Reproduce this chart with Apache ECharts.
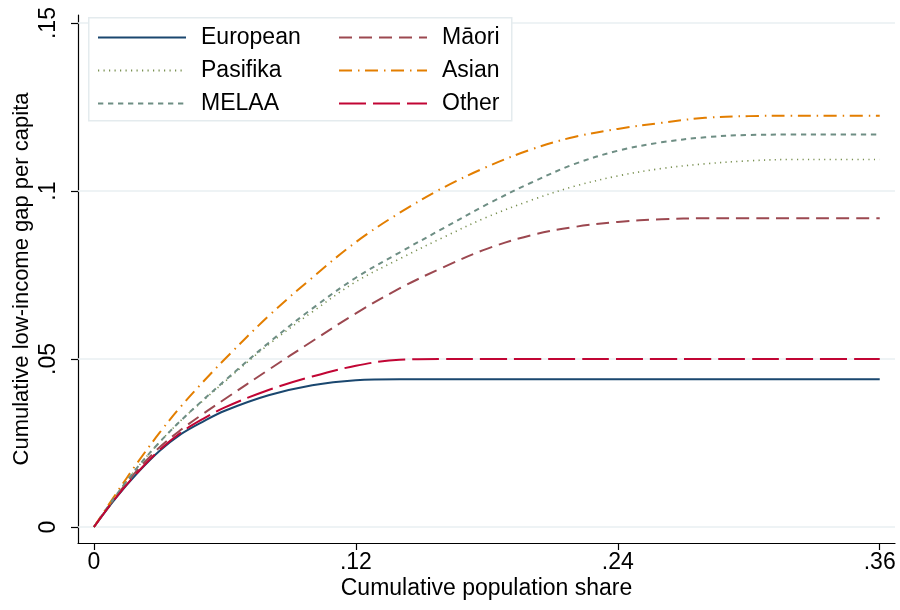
<!DOCTYPE html>
<html>
<head>
<meta charset="utf-8">
<script src="https://cdn.jsdelivr.net/npm/echarts@6.0.0/dist/echarts.min.js"></script>
<style>
html,body{margin:0;padding:0;background:#fff;}
#chart{width:900px;height:610px;}
</style>
</head>
<body>
<div id="chart"></div>
<script>
// Cumulative population share (x)
const xShare = [0, 0.01, 0.02, 0.03, 0.04, 0.05, 0.06, 0.08, 0.10, 0.12, 0.14, 0.16, 0.18, 0.20, 0.22, 0.24, 0.26, 0.28, 0.30, 0.32, 0.34, 0.36];

// Cumulative low-income gap per capita (y), one array per group
const european = [0, 0.0086, 0.0161, 0.0226, 0.0277, 0.0314, 0.0346, 0.0392, 0.0422, 0.0437, 0.0440, 0.0440, 0.0440, 0.0440, 0.0440, 0.0440, 0.0440, 0.0440, 0.0440, 0.0440, 0.0440, 0.0440];
const maori    = [0, 0.0090, 0.0170, 0.0237, 0.0290, 0.0337, 0.0381, 0.0468, 0.0553, 0.0636, 0.0710, 0.0773, 0.0828, 0.0868, 0.0893, 0.0908, 0.0916, 0.0919, 0.0919, 0.0919, 0.0919, 0.0919];
const pasifika = [0, 0.0093, 0.0178, 0.0252, 0.0318, 0.0376, 0.0433, 0.0543, 0.0640, 0.0730, 0.0798, 0.0862, 0.0922, 0.0972, 0.1014, 0.1045, 0.1067, 0.1081, 0.1090, 0.1094, 0.1094, 0.1094];
const asian    = [0, 0.0098, 0.0192, 0.0280, 0.0360, 0.0432, 0.0500, 0.0628, 0.0742, 0.0848, 0.0935, 0.1010, 0.1072, 0.1123, 0.1161, 0.1185, 0.1203, 0.1218, 0.1223, 0.1224, 0.1224, 0.1224];
const melaa    = [0, 0.0093, 0.0178, 0.0252, 0.0318, 0.0378, 0.0436, 0.0548, 0.0650, 0.0742, 0.0817, 0.0889, 0.0960, 0.1024, 0.1080, 0.1120, 0.1145, 0.1160, 0.1167, 0.1168, 0.1168, 0.1168];
const other    = [0, 0.0087, 0.0163, 0.0229, 0.0282, 0.0322, 0.0356, 0.0408, 0.0448, 0.0480, 0.0498, 0.0500, 0.0500, 0.0500, 0.0500, 0.0500, 0.0500, 0.0500, 0.0500, 0.0500, 0.0500, 0.0500];

const seriesNames = ['European', 'Māori', 'Pasifika', 'Asian', 'MELAA', 'Other'];

// Tick values and labels
const xTicks = [0, 0.12, 0.24, 0.36];
const xTickLabels = ['0', '.12', '.24', '.36'];
const yTicks = [0, 0.05, 0.1, 0.15];
const yTickLabels = ['0', '.05', '.1', '.15'];

const xTitle = 'Cumulative population share';
const yTitle = 'Cumulative low-income gap per capita';

const FONT = 'Liberation Sans, Arial, Helvetica, sans-serif';
const FS = 23;

function pairs(ys) { return xShare.map((x, i) => [x, ys[i]]); }
function fmt(ticks, labels) {
  return function (v) {
    for (let i = 0; i < ticks.length; i++) if (Math.abs(v - ticks[i]) < 1e-9) return labels[i];
    return '';
  };
}

const styles = {
  'European': { color: '#1a476f', width: 2,   type: 'solid' },
  'Māori':    { color: '#9c4850', width: 2,   type: [13, 7] },
  'Pasifika': { color: '#7a9152', width: 1.6, type: [1.2, 4.3] },
  'Asian':    { color: '#e37e00', width: 2,   type: [13, 6, 1.5, 5.5] },
  'MELAA':    { color: '#6e8e84', width: 2,   type: [5.3, 4.7] },
  'Other':    { color: '#c10534', width: 2,   type: [27, 7] }
};
const dataMap = { 'European': european, 'Māori': maori, 'Pasifika': pasifika, 'Asian': asian, 'MELAA': melaa, 'Other': other };

const series = [{
  type: 'line', name: '_grid', data: [], silent: true, z: 1,
  markLine: {
    silent: true, z: 1, symbol: ['none', 'none'], label: { show: false },
    lineStyle: { color: '#e9eff2', width: 1.5, type: 'solid' },
    emphasis: { disabled: true },
    animation: false,
    data: yTicks.map(v => ({ yAxis: v }))
  }
}];
seriesNames.forEach(n => {
  const s = styles[n];
  series.push({
    type: 'line', name: n, data: pairs(dataMap[n]), showSymbol: false, symbol: 'none',
    smooth: 0.35, z: 3, color: s.color,
    lineStyle: { color: s.color, width: s.width, type: s.type, cap: 'butt' }
  });
});

const legendCommon = {
  orient: 'vertical', itemWidth: 88, itemHeight: 14, itemGap: 10, padding: 0,
  selectedMode: false, z: 10,
  itemStyle: { opacity: 0 },
  textStyle: { fontFamily: FONT, fontSize: FS, color: '#000', padding: [0, 0, 0, 10] }
};

const chart = echarts.init(document.getElementById('chart'), null, { renderer: 'canvas' });
chart.setOption({
  animation: false,
  backgroundColor: '#fff',
  textStyle: { fontFamily: FONT },
  grid: { left: 78, right: 5, top: 15, bottom: 67, containLabel: false, outerBoundsMode: 'none' },
  graphic: [{
    type: 'rect', left: 88, top: 17, z: 5, silent: true,
    shape: { width: 423, height: 103 },
    style: { fill: '#fff', stroke: '#e4ebee', lineWidth: 1.5 }
  }],
  legend: [
    Object.assign({}, legendCommon, { left: 97, top: 26, data: ['European', 'Pasifika', 'MELAA'] }),
    Object.assign({}, legendCommon, { left: 338, top: 26, data: ['Māori', 'Asian', 'Other'] })
  ],
  xAxis: {
    type: 'value', min: -0.0073, max: 0.367,
    name: xTitle, nameLocation: 'middle', nameGap: 34, nameMoveOverlap: false,
    nameTextStyle: { fontFamily: FONT, fontSize: FS, color: '#000' },
    axisLine: { show: true, onZero: false, lineStyle: { color: '#000', width: 1.2 } },
    axisTick: { show: true, customValues: xTicks, length: 7, lineStyle: { color: '#000', width: 1.2 } },
    axisLabel: { customValues: xTicks, formatter: fmt(xTicks, xTickLabels), margin: 8, fontFamily: FONT, fontSize: FS, color: '#000' },
    splitLine: { show: false }
  },
  yAxis: {
    type: 'value', min: -0.00476, max: 0.1524,
    name: yTitle, nameLocation: 'middle', nameGap: 45, nameMoveOverlap: false,
    nameTextStyle: { fontFamily: FONT, fontSize: 22, color: '#000' },
    axisLine: { show: true, onZero: false, lineStyle: { color: '#000', width: 1.2 } },
    axisTick: { show: true, customValues: yTicks, length: 7, lineStyle: { color: '#000', width: 1.2 } },
    axisLabel: { customValues: yTicks, formatter: fmt(yTicks, yTickLabels), rotate: 90, margin: 18, fontFamily: FONT, fontSize: FS, color: '#000' },
    splitLine: { show: false }
  },
  series: series
});
</script>
</body>
</html>
